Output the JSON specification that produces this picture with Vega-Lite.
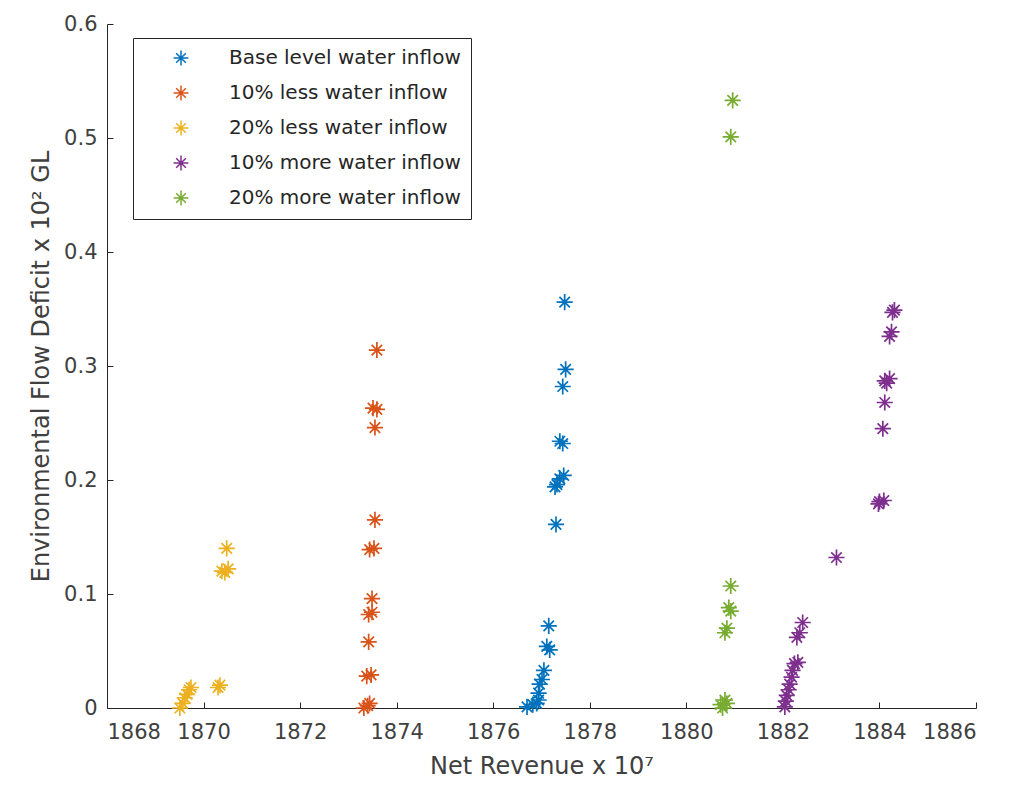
{
  "$schema": "https://vega.github.io/schema/vega-lite/v6.json",
  "width": 869,
  "height": 684,
  "autosize": {"type": "none"},
  "padding": {"left": 107, "top": 24, "right": 47, "bottom": 86},
  "background": "white",
  "config": {"view": {"stroke": null}, "font": "DejaVu Sans"},
  "data": {
    "values": [
      {"series": "Base level water inflow", "revenue": 1877.48, "deficit": 0.356},
      {"series": "Base level water inflow", "revenue": 1877.50, "deficit": 0.297},
      {"series": "Base level water inflow", "revenue": 1877.44, "deficit": 0.282},
      {"series": "Base level water inflow", "revenue": 1877.38, "deficit": 0.234},
      {"series": "Base level water inflow", "revenue": 1877.44, "deficit": 0.232},
      {"series": "Base level water inflow", "revenue": 1877.46, "deficit": 0.204},
      {"series": "Base level water inflow", "revenue": 1877.38, "deficit": 0.201},
      {"series": "Base level water inflow", "revenue": 1877.32, "deficit": 0.196},
      {"series": "Base level water inflow", "revenue": 1877.28, "deficit": 0.194},
      {"series": "Base level water inflow", "revenue": 1877.30, "deficit": 0.161},
      {"series": "Base level water inflow", "revenue": 1877.15, "deficit": 0.072},
      {"series": "Base level water inflow", "revenue": 1877.11, "deficit": 0.054},
      {"series": "Base level water inflow", "revenue": 1877.17, "deficit": 0.051},
      {"series": "Base level water inflow", "revenue": 1877.05, "deficit": 0.033},
      {"series": "Base level water inflow", "revenue": 1877.01, "deficit": 0.025},
      {"series": "Base level water inflow", "revenue": 1876.96, "deficit": 0.021},
      {"series": "Base level water inflow", "revenue": 1876.94, "deficit": 0.013},
      {"series": "Base level water inflow", "revenue": 1876.94, "deficit": 0.007},
      {"series": "Base level water inflow", "revenue": 1876.90, "deficit": 0.004},
      {"series": "Base level water inflow", "revenue": 1876.82, "deficit": 0.003},
      {"series": "Base level water inflow", "revenue": 1876.70, "deficit": 0.001},
      {"series": "10% less water inflow", "revenue": 1873.59, "deficit": 0.314},
      {"series": "10% less water inflow", "revenue": 1873.51, "deficit": 0.263},
      {"series": "10% less water inflow", "revenue": 1873.59, "deficit": 0.262},
      {"series": "10% less water inflow", "revenue": 1873.55, "deficit": 0.246},
      {"series": "10% less water inflow", "revenue": 1873.55, "deficit": 0.165},
      {"series": "10% less water inflow", "revenue": 1873.44, "deficit": 0.139},
      {"series": "10% less water inflow", "revenue": 1873.53, "deficit": 0.140},
      {"series": "10% less water inflow", "revenue": 1873.49, "deficit": 0.096},
      {"series": "10% less water inflow", "revenue": 1873.42, "deficit": 0.082},
      {"series": "10% less water inflow", "revenue": 1873.49, "deficit": 0.084},
      {"series": "10% less water inflow", "revenue": 1873.42, "deficit": 0.058},
      {"series": "10% less water inflow", "revenue": 1873.38, "deficit": 0.028},
      {"series": "10% less water inflow", "revenue": 1873.47, "deficit": 0.029},
      {"series": "10% less water inflow", "revenue": 1873.32, "deficit": 0.000},
      {"series": "10% less water inflow", "revenue": 1873.40, "deficit": 0.002},
      {"series": "10% less water inflow", "revenue": 1873.44, "deficit": 0.004},
      {"series": "20% less water inflow", "revenue": 1870.48, "deficit": 0.140},
      {"series": "20% less water inflow", "revenue": 1870.38, "deficit": 0.120},
      {"series": "20% less water inflow", "revenue": 1870.51, "deficit": 0.122},
      {"series": "20% less water inflow", "revenue": 1870.44, "deficit": 0.119},
      {"series": "20% less water inflow", "revenue": 1870.34, "deficit": 0.020},
      {"series": "20% less water inflow", "revenue": 1870.30, "deficit": 0.018},
      {"series": "20% less water inflow", "revenue": 1869.51, "deficit": 0.000},
      {"series": "20% less water inflow", "revenue": 1869.57, "deficit": 0.004},
      {"series": "20% less water inflow", "revenue": 1869.61, "deficit": 0.009},
      {"series": "20% less water inflow", "revenue": 1869.66, "deficit": 0.012},
      {"series": "20% less water inflow", "revenue": 1869.70, "deficit": 0.016},
      {"series": "20% less water inflow", "revenue": 1869.74, "deficit": 0.018},
      {"series": "10% more water inflow", "revenue": 1884.27, "deficit": 0.347},
      {"series": "10% more water inflow", "revenue": 1884.31, "deficit": 0.349},
      {"series": "10% more water inflow", "revenue": 1884.25, "deficit": 0.330},
      {"series": "10% more water inflow", "revenue": 1884.21, "deficit": 0.326},
      {"series": "10% more water inflow", "revenue": 1884.11, "deficit": 0.287},
      {"series": "10% more water inflow", "revenue": 1884.21, "deficit": 0.289},
      {"series": "10% more water inflow", "revenue": 1884.15, "deficit": 0.285},
      {"series": "10% more water inflow", "revenue": 1884.11, "deficit": 0.268},
      {"series": "10% more water inflow", "revenue": 1884.07, "deficit": 0.245},
      {"series": "10% more water inflow", "revenue": 1884.00, "deficit": 0.181},
      {"series": "10% more water inflow", "revenue": 1884.09, "deficit": 0.182},
      {"series": "10% more water inflow", "revenue": 1883.98, "deficit": 0.179},
      {"series": "10% more water inflow", "revenue": 1883.11, "deficit": 0.132},
      {"series": "10% more water inflow", "revenue": 1882.41, "deficit": 0.075},
      {"series": "10% more water inflow", "revenue": 1882.35, "deficit": 0.066},
      {"series": "10% more water inflow", "revenue": 1882.29, "deficit": 0.062},
      {"series": "10% more water inflow", "revenue": 1882.31, "deficit": 0.040},
      {"series": "10% more water inflow", "revenue": 1882.24, "deficit": 0.039},
      {"series": "10% more water inflow", "revenue": 1882.20, "deficit": 0.033},
      {"series": "10% more water inflow", "revenue": 1882.18, "deficit": 0.027},
      {"series": "10% more water inflow", "revenue": 1882.14, "deficit": 0.021},
      {"series": "10% more water inflow", "revenue": 1882.12, "deficit": 0.016},
      {"series": "10% more water inflow", "revenue": 1882.08, "deficit": 0.011},
      {"series": "10% more water inflow", "revenue": 1882.06, "deficit": 0.006},
      {"series": "10% more water inflow", "revenue": 1882.04, "deficit": 0.001},
      {"series": "20% more water inflow", "revenue": 1880.96, "deficit": 0.533},
      {"series": "20% more water inflow", "revenue": 1880.92, "deficit": 0.501},
      {"series": "20% more water inflow", "revenue": 1880.92, "deficit": 0.107},
      {"series": "20% more water inflow", "revenue": 1880.88, "deficit": 0.088},
      {"series": "20% more water inflow", "revenue": 1880.92, "deficit": 0.085},
      {"series": "20% more water inflow", "revenue": 1880.84, "deficit": 0.070},
      {"series": "20% more water inflow", "revenue": 1880.80, "deficit": 0.066},
      {"series": "20% more water inflow", "revenue": 1880.80, "deficit": 0.007},
      {"series": "20% more water inflow", "revenue": 1880.71, "deficit": 0.003},
      {"series": "20% more water inflow", "revenue": 1880.75, "deficit": 0.000},
      {"series": "20% more water inflow", "revenue": 1880.84, "deficit": 0.004}
    ]
  },
  "mark": {
    "type": "point",
    "shape": "M-1,0H1M0,-1V1M-0.65,-0.65L0.65,0.65M-0.65,0.65L0.65,-0.65",
    "filled": false,
    "strokeWidth": 1.7,
    "size": 260,
    "opacity": 1
  },
  "encoding": {
    "x": {
      "field": "revenue",
      "type": "quantitative",
      "scale": {"domain": [1868, 1886], "nice": false, "zero": false},
      "axis": {
        "title": "Net Revenue x 10⁷",
        "values": [1868, 1870, 1872, 1874, 1876, 1878, 1880, 1882, 1884, 1886],
        "format": "d",
        "grid": false,
        "domainColor": "#262626",
        "tickColor": "#262626",
        "tickSize": -6,
        "labelPadding": 19,
        "labelFontSize": 21,
        "labelColor": "#404040",
        "titleFontSize": 24,
        "titleFontWeight": "normal",
        "titleColor": "#404040",
        "titlePadding": 12
      }
    },
    "y": {
      "field": "deficit",
      "type": "quantitative",
      "scale": {"domain": [0, 0.6], "nice": false},
      "axis": {
        "title": "Environmental Flow Deficit x 10² GL",
        "values": [0, 0.1, 0.2, 0.3, 0.4, 0.5, 0.6],
        "labelExpr": "datum.value === 0 ? '0' : format(datum.value, '.1f')",
        "grid": false,
        "domainColor": "#262626",
        "tickColor": "#262626",
        "tickSize": -6,
        "labelPadding": 16,
        "labelFontSize": 21,
        "labelColor": "#404040",
        "titleFontSize": 24,
        "titleFontWeight": "normal",
        "titleColor": "#404040",
        "titlePadding": 10
      }
    },
    "color": {
      "field": "series",
      "type": "nominal",
      "scale": {
        "domain": ["Base level water inflow", "10% less water inflow", "20% less water inflow", "10% more water inflow", "20% more water inflow"],
        "range": ["#0072BD", "#D95319", "#EDB120", "#7E2F8E", "#77AC30"]
      },
      "legend": {
        "orient": "none",
        "legendX": 26,
        "legendY": 14,
        "title": null,
        "strokeColor": "#262626",
        "fillColor": "white",
        "padding": 10,
        "symbolType": "M-1,0H1M0,-1V1M-0.65,-0.65L0.65,0.65M-0.65,0.65L0.65,-0.65",
        "symbolSize": 220,
        "symbolStrokeWidth": 1.5,
        "symbolOffset": 28,
        "labelOffset": 38,
        "labelFontSize": 20,
        "labelLimit": 400,
        "labelFont": "DejaVu Sans",
        "labelColor": "#262626",
        "rowPadding": 13
      }
    }
  }
}
